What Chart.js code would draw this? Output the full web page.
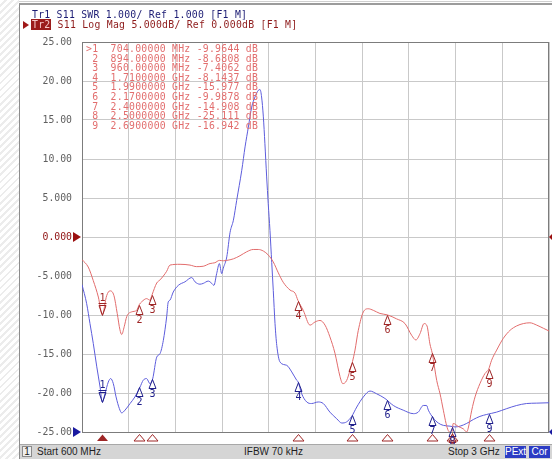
<!DOCTYPE html>
<html>
<head>
<meta charset="utf-8">
<script src="https://cdn.jsdelivr.net/npm/chart.js@4.4.1/dist/chart.umd.min.js"></script>
<style>
  html, body { margin: 0; padding: 0; width: 552px; height: 459px; overflow: hidden; background: #fff; }
  #hatch { position: absolute; left: 0; top: 0; width: 19px; height: 459px;
           background: repeating-linear-gradient(135deg, #ffffff 0 3px, #ececec 3px 5px); }
  #topline { position: absolute; left: 19px; top: 1px; width: 533px; height: 1px; background: #d0d0d0; }
  #win { position: absolute; left: 19px; top: 3px; width: 533px; height: 456px; box-sizing: border-box;
         border-left: 1px solid #8c8c8c; border-top: 2px solid #9c9c9c; background: #fff; }
  #chart { position: absolute; left: 0; top: 0; }
  .mono { font-family: "DejaVu Sans Mono", monospace; font-size: 9.8px; letter-spacing: 0.25px;
          white-space: pre; position: absolute; line-height: 10px; }
  #tr1 { left: 32px; top: 10px; color: #1c1c74; }
  #tr2 { left: 31px; top: 19.5px; color: #8e1b1b; }
  #tr2 .tag { background: #9b1c1c; color: #f6c8c8; padding: 0 1px 0 1px; }
  #tr2arrow { position: absolute; left: 23px; top: 21px; width: 0; height: 0;
              border-top: 4px solid transparent; border-bottom: 4px solid transparent; border-left: 6px solid #a01818; }
  #mtable { left: 86px; top: 44px; color: #e26e6e; line-height: 9.6px; }
  #status { position: absolute; left: 20px; top: 444px; width: 532px; height: 15px; background: #d5d5d5;
            border-top: 1px solid #a8a8a8; box-sizing: border-box;
            font-family: "Liberation Sans", Arial, sans-serif; font-size: 10px; color: #1e1e1e; }
  #status span { position: absolute; top: 1px; line-height: 12px; }
  #chn { left: 2px; width: 10px; height: 11px; background: #efefef; border: 1px solid #8a8a8a;
         text-align: center; box-sizing: border-box; line-height: 10px !important; }
  .badge { background: #2c3cc4; color: #fff; text-align: center; height: 12px; }
</style>
</head>
<body>
<div id="hatch"></div>
<div id="topline"></div>
<div id="win"></div>
<canvas id="chart" width="552" height="459"></canvas>
<div id="tr1" class="mono"></div>
<div id="tr2arrow"></div>
<div id="tr2" class="mono"></div>
<div id="mtable" class="mono"></div>
<div id="status">
  <span id="chn">1</span>
  <span id="start" style="left:17px"></span>
  <span id="ifbw" style="left:224px"></span>
  <span id="stop" style="left:428px"></span>
  <span class="badge" style="left:485px;width:21px">PExt</span>
  <span class="badge" style="left:509px;width:21px">Cor</span>
</div>
<script>
// Sweep settings (MHz)
const startMHz = 600;
const stopMHz = 3000;
const ifbwText = "IFBW 70 kHz";

// Trace 2: S11 log magnitude (dB)
const freqRed = [600,632,658,684,704,727,744,764,781,795,804,817,830,855,881,894,907,932,949,960,
  984,1001,1035,1052,1104,1155,1189,1223,1258,1283,1306,1326,1344,1378,1412,1446,1480,1506,1532,1557,
  1583,1609,1634,1669,1695,1710,1737,1772,1797,1823,1849,1874,1900,1926,1940,1960,1977,1990,2003,2020,
  2046,2071,2097,2131,2170,2217,2260,2294,2316,2337,2358,2373,2388,2400,2423,2440,2457,2471,2482,2500,
  2508,2534,2560,2577,2585,2603,2620,2645,2671,2690,2705,2731,2765,2800,2834,2868,2902,2937,2971,3000];
const dbRed = [-2.9,-3.85,-5.6,-7.7,-9.96,-7.5,-6.9,-7.5,-9.8,-11.9,-12.5,-11.5,-10.2,-9.6,-9.4,-8.68,-8.3,-7.9,-8.1,-7.41,
  -5.9,-5.5,-4.4,-3.6,-3.5,-3.6,-3.8,-3.75,-3.4,-3.3,-3.0,-3.05,-3.0,-2.8,-2.4,-1.9,-1.6,-1.6,-1.8,-2.3,
  -3.2,-4.6,-5.8,-6.8,-7.2,-8.14,-9.4,-11.3,-10.9,-10.7,-11.3,-12.8,-14.9,-17.9,-18.8,-18.4,-17.1,-15.98,-14.5,-11.96,
  -9.6,-9.2,-9.4,-9.8,-9.99,-10.5,-11.1,-12.6,-13.2,-12.4,-11.1,-11.4,-13.7,-14.91,-18.4,-20.1,-22.2,-23.9,-24.8,-25.11,
  -23.9,-24.3,-24.6,-25.0,-24.5,-22.2,-20.5,-18.8,-17.5,-16.94,-15.8,-14.5,-13.0,-11.96,-11.4,-11.1,-11.0,-11.3,-11.7,-12.05];

// Trace 1: S11 SWR
const freqBlue = [600,624,641,658,676,693,704,718,735,747,761,775,792,804,821,847,872,898,915,932,
  949,963,984,1001,1018,1035,1043,1052,1069,1095,1129,1164,1181,1206,1223,1249,1267,1278,1292,1306,
  1318,1326,1344,1361,1378,1395,1421,1438,1455,1472,1489,1506,1515,1523,1532,1540,1549,1557,1566,1575,
  1583,1592,1601,1618,1652,1678,1703,1711,1729,1755,1780,1814,1840,1874,1909,1935,1960,1986,2012,2046,
  2080,2114,2157,2200,2251,2303,2328,2354,2371,2380,2405,2431,2457,2491,2517,2543,2577,2611,2645,2680,
  2731,2783,2834,2885,2937,3000];
const swrBlue = [4.78,4.29,3.78,3.27,2.67,2.15,1.77,1.98,2.28,2.37,2.24,1.90,1.60,1.49,1.56,1.73,1.90,2.15,2.33,2.37,
  2.24,2.36,2.92,3.01,3.35,3.95,4.33,4.38,4.59,4.76,4.85,4.96,4.85,4.79,4.81,4.87,4.81,4.76,5.06,5.32,
  5.06,5.20,5.49,6.12,6.43,6.94,7.71,8.31,8.82,9.33,9.59,9.76,9.78,9.59,9.08,8.39,7.54,6.86,6.17,5.35,
  4.63,3.78,3.22,2.79,2.71,2.54,2.33,2.28,1.98,1.77,1.73,1.77,1.73,1.51,1.34,1.23,1.26,1.40,1.64,1.90,
  2.05,1.98,1.86,1.68,1.56,1.47,1.51,1.68,1.68,1.56,1.36,1.23,1.17,1.15,1.13,1.15,1.22,1.32,1.40,1.45,
  1.51,1.60,1.68,1.73,1.74,1.75];

// Markers
const markerFreq = [704, 894, 960, 1710, 1990, 2170, 2400, 2500, 2690];
const markerDb = [-9.9644, -8.6808, -7.4062, -8.1437, -15.977, -9.9878, -14.908, -25.111, -16.942];
const markerSwr = [1.77, 2.15, 2.36, 2.28, 1.43, 1.83, 1.40, 1.14, 1.46];

// Log-mag scale: 5 dB/div, reference 0 dB
const dbTickValues = [25, 20, 15, 10, 5, 0, -5, -10, -15, -20, -25];
const dbTickLabels = ["25.00", "20.00", "15.00", "10.00", "5.000", "0.000", "-5.000", "-10.00", "-15.00", "-20.00", "-25.00"];

// Header lines
document.getElementById('tr1').textContent = "Tr1 S11 SWR 1.000/ Ref 1.000 [F1 M]";
document.getElementById('tr2').innerHTML = '<span class="tag">Tr2</span> S11 Log Mag 5.000dB/ Ref 0.000dB [F1 M]';

// Marker readout table
function fmtFreq(f) {
  return f < 1000 ? f.toFixed(5) + " MHz" : (f / 1000).toFixed(7) + " GHz";
}
const rows = markerFreq.map((f, i) => {
  const id = (i === 0 ? ">" : " ") + (i + 1);
  return id + "  " + fmtFreq(f) + " " + markerDb[i].toPrecision(5) + " dB";
});
document.getElementById('mtable').textContent = rows.join("\n");

// Status bar
document.getElementById('start').textContent = "Start " + startMHz + " MHz";
document.getElementById('ifbw').textContent = ifbwText;
document.getElementById('stop').textContent = "Stop " + (stopMHz / 1000) + " GHz";

const RED_MARK = '#9e2626';
const BLUE_MARK = '#20208c';

// Plot frame and reference-level arrows
const framePlugin = {
  id: 'vnaFrame',
  beforeDatasetsDraw(chart) {
    const { ctx, chartArea: a, scales: { y, y2 } } = chart;
    ctx.save();
    ctx.strokeStyle = '#7c7c7c';
    ctx.lineWidth = 1;
    ctx.strokeRect(Math.round(a.left) + 0.5, Math.round(a.top) + 0.5,
                   Math.round(a.right - a.left) - 1, Math.round(a.bottom - a.top));
    const refs = [{ py: y.getPixelForValue(0), c: '#9b1010' }, { py: y2.getPixelForValue(1), c: '#1a1aa0' }];
    refs.forEach(r => {
      ctx.fillStyle = r.c;
      ctx.beginPath();
      ctx.moveTo(a.left - 9, r.py - 5); ctx.lineTo(a.left - 1, r.py); ctx.lineTo(a.left - 9, r.py + 5);
      ctx.closePath(); ctx.fill();
      ctx.beginPath();
      ctx.moveTo(a.right + 4, r.py - 4); ctx.lineTo(a.right, r.py); ctx.lineTo(a.right + 4, r.py + 4);
      ctx.closePath(); ctx.fill();
    });
    ctx.restore();
  }
};

// Marker symbols on both traces plus the marker strip under the plot
const markerPlugin = {
  id: 'vnaMarkers',
  afterDatasetsDraw(chart) {
    const { ctx, chartArea: a, scales: { x, y, y2 } } = chart;
    ctx.save();
    ctx.beginPath();
    ctx.rect(a.left, 0, a.right - a.left + 2, 444);
    ctx.clip();
    ctx.font = '10px "DejaVu Sans Mono"';
    ctx.textAlign = 'center';
    ctx.lineWidth = 1;
    const traces = [
      { scale: y, vals: markerDb, color: RED_MARK },
      { scale: y2, vals: markerSwr, color: BLUE_MARK }
    ];
    traces.forEach(t => {
      markerFreq.forEach((f, i) => {
        const px = Math.round(x.getPixelForValue(f)) + 0.5;
        const py = Math.round(t.scale.getPixelForValue(t.vals[i])) + 0.5;
        ctx.strokeStyle = t.color;
        ctx.fillStyle = t.color;
        const label = String(i + 1);
        if (i === 0) {
          ctx.beginPath();
          ctx.moveTo(px, py); ctx.lineTo(px - 3.5, py - 10); ctx.lineTo(px + 3.5, py - 10); ctx.closePath();
          ctx.stroke();
          ctx.beginPath();
          ctx.moveTo(px - 4, py - 12); ctx.lineTo(px + 4, py - 12);
          ctx.stroke();
          ctx.textBaseline = 'bottom';
          ctx.fillText(label, px, py - 12);
        } else {
          ctx.beginPath();
          ctx.moveTo(px, py); ctx.lineTo(px - 3.5, py + 9); ctx.lineTo(px + 3.5, py + 9); ctx.closePath();
          ctx.stroke();
          ctx.textBaseline = 'top';
          ctx.fillText(label, px, py + 10);
        }
      });
    });
    // strip of stimulus markers under the grid
    const sy = a.bottom + 2;
    markerFreq.forEach((f, i) => {
      const px = Math.round(x.getPixelForValue(f)) + 0.5;
      ctx.strokeStyle = RED_MARK;
      ctx.fillStyle = RED_MARK;
      ctx.beginPath();
      ctx.moveTo(px, sy + 0.5); ctx.lineTo(px - 5.5, sy + 7); ctx.lineTo(px + 5.5, sy + 7); ctx.closePath();
      if (i === 0) ctx.fill(); else ctx.stroke();
    });
    ctx.restore();
  }
};

const tickLabelFor = {};
dbTickValues.forEach((v, i) => { tickLabelFor[v] = dbTickLabels[i]; });

new Chart(document.getElementById('chart'), {
  type: 'line',
  data: {
    datasets: [
      {
        label: 'S11 Log Mag',
        data: freqRed.map((f, i) => ({ x: f, y: dbRed[i] })),
        borderColor: '#e26c6c',
        borderWidth: 1,
        pointRadius: 0,
        cubicInterpolationMode: 'monotone',
        yAxisID: 'y'
      },
      {
        label: 'S11 SWR',
        data: freqBlue.map((f, i) => ({ x: f, y: swrBlue[i] })),
        borderColor: '#5c5cdc',
        borderWidth: 1,
        pointRadius: 0,
        cubicInterpolationMode: 'monotone',
        yAxisID: 'y2'
      }
    ]
  },
  options: {
    responsive: false,
    animation: false,
    events: [],
    layout: { padding: { top: 42, right: 3, left: 0, bottom: 0 } },
    plugins: { legend: { display: false }, tooltip: { enabled: false } },
    scales: {
      x: {
        type: 'linear', min: startMHz, max: stopMHz,
        ticks: { stepSize: (stopMHz - startMHz) / 10, display: false },
        grid: { color: '#c9c9c9', drawTicks: false },
        border: { display: false },
        afterFit(s) { s.height = 27; }
      },
      y: {
        min: -25, max: 25,
        ticks: {
          stepSize: 5, padding: 10,
          font: { family: 'DejaVu Sans Mono', size: 9.8 },
          color: c => (c.tick.value === 0 ? '#8e1010' : '#606060'),
          callback: v => tickLabelFor[v]
        },
        grid: { color: '#c9c9c9', drawTicks: false },
        border: { display: false },
        afterFit(s) { s.width = 82; }
      },
      y2: { min: 1, max: 11, display: false }
    }
  },
  plugins: [framePlugin, markerPlugin]
});
</script>
</body>
</html>
